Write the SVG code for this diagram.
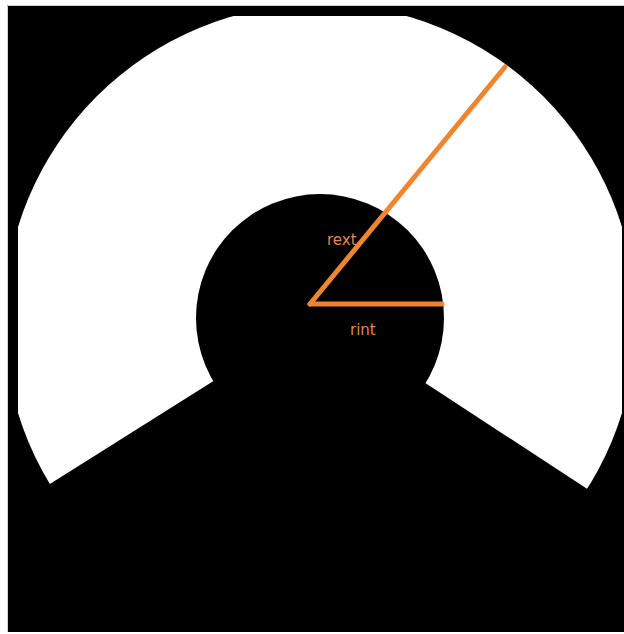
<svg xmlns="http://www.w3.org/2000/svg" width="624" height="634" viewBox="0 0 624 634">
  <style>
    .lbl { font-family: "DejaVu Sans", sans-serif; font-size: 15px; fill: #e2874f; }
    .ray { stroke: #f0852f; stroke-width: 5; stroke-linecap: round; fill: none; }
  </style>
  <defs>
    <clipPath id="frame">
      <rect x="18" y="16" width="604" height="618"/>
    </clipPath>
  </defs>
  <rect x="0" y="0" width="624" height="634" fill="#ffffff"/>
  <rect x="7" y="5" width="617" height="627" fill="#000000"/>
  <g id="sector">
    <circle cx="320" cy="320" r="316" fill="#ffffff" clip-path="url(#frame)"/>
    <polygon points="320,314 7,511 7,632 624,632 624,513" fill="#000000"/>
    <circle cx="320" cy="318" r="124" fill="#000000"/>
  </g>
  <path d="M7.5,632 V5.5 H624" fill="none" stroke="#d0d0d0" stroke-width="1"/>
  <g id="connectors">
    <line class="ray" x1="310" y1="304" x2="505" y2="67"/>
    <line class="ray" x1="310" y1="304" x2="442" y2="304"/>
  </g>
  <g id="labels">
    <text class="lbl" x="327" y="245">rext</text>
    <text class="lbl" x="350" y="335">rint</text>
  </g>
</svg>
